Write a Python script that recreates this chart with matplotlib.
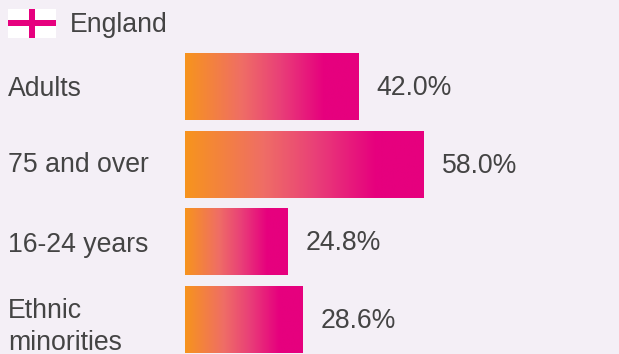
import matplotlib
matplotlib.use('Agg')
import matplotlib.pyplot as plt
from matplotlib.colors import LinearSegmentedColormap
from matplotlib.patches import Rectangle
import numpy as np

categories = ['Adults', '75 and over', '16-24 years', 'Ethnic\nminorities']
values = [42.0, 58.0, 24.8, 28.6]
heading = 'England'

W, H = 619, 354
bg = '#f4eff6'
pink = '#e6007e'
orange = '#f7941d'
text_col = '#444444'
fs = 19.2

plt.rcParams['font.family'] = ['Liberation Sans', 'DejaVu Sans']

fig = plt.figure(figsize=(W/100, H/100), dpi=100, facecolor=bg)

# axes runs from first bar start to the right edge
px_per_pct = 4.12
row = 77.67
ax = fig.add_axes([185/W, 0, (W-185)/W, (H-47.5)/H])
ax.set_facecolor('none')
ax.axis('off')

cmap = LinearSegmentedColormap.from_list('bar', [(0, orange), (0.33, '#ef6d66'), (0.55, '#e93f78'), (0.8, pink), (1, pink)])
grad = np.linspace(0, 1, 256).reshape(1, -1)
h = 67/row

bars = ax.barh(range(len(values)), values, height=h, color='none', edgecolor='none')
for i, (v, b) in enumerate(zip(values, bars)):
    # image is clipped to the bar so the edge stays where the value puts it
    im = ax.imshow(grad, cmap=cmap, extent=(0, v, i+h/2, i-h/2), aspect='auto', interpolation='bilinear')
    im.set_clip_path(b)
    ax.text(v+18/px_per_pct, i+1.5/row, '%.1f%%' % v, va='center', ha='left', fontsize=fs, color=text_col)
ax.set_xlim(0, (W-185)/px_per_pct)
ax.set_ylim((H-86.5)/row, -39/row)

# category labels, in figure pixels
label_y = [88.5, 165.5, 244.5, 326.5]
for lab, y in zip(categories, label_y):
    fig.text(8/W, 1-y/H, lab, va='center', ha='left', fontsize=fs, color=text_col, linespacing=1.3)

# flag
fig.add_artist(Rectangle((8/W, 1-38/H), 48/W, 29/H, transform=fig.transFigure, fc='white', ec='none'))
fig.add_artist(Rectangle((8/W, 1-26/H), 48/W, 6/H, transform=fig.transFigure, fc=pink, ec='none'))
fig.add_artist(Rectangle((29/W, 1-38/H), 6/W, 29/H, transform=fig.transFigure, fc=pink, ec='none'))
fig.text(70/W, 1-25/H, heading, va='center', ha='left', fontsize=fs, color=text_col)

fig.savefig('out.png', dpi=100, facecolor=bg)
